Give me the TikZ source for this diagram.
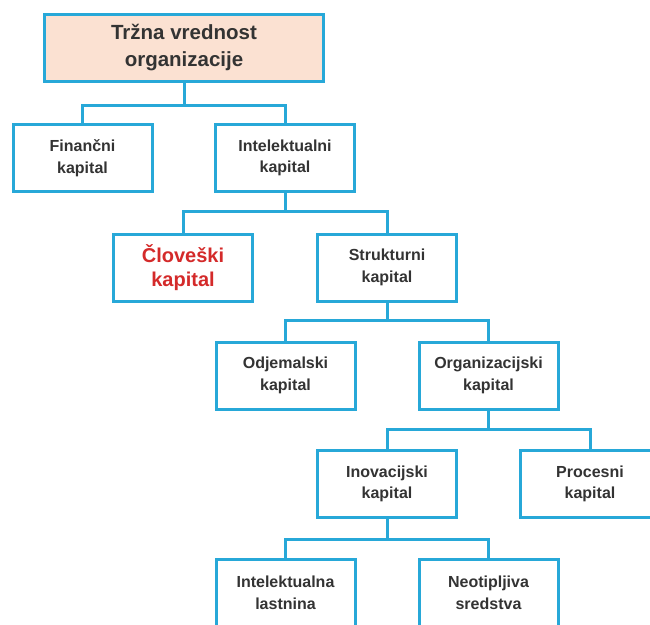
\documentclass[tikz,border=0pt]{standalone}
\usepackage{fontspec}
\setmainfont{Liberation Sans}
\definecolor{bcol}{HTML}{27A8D8}
\definecolor{tcol}{HTML}{333333}
\definecolor{rcol}{HTML}{D42A2A}
\definecolor{peach}{HTML}{FBE1D2}
\tikzset{
  box/.style={draw=bcol, line width=3pt, fill=white, minimum width=139pt, minimum height=67pt,
    align=center, inner sep=0pt, text=tcol, font=\bfseries\fontsize{16}{21.5}\selectfont},
  topbox/.style={box, fill=peach, minimum width=279pt, font=\bfseries\fontsize{20.5}{27}\selectfont},
  redbox/.style={box, text=rcol, font=\bfseries\fontsize{20}{24.5}\selectfont},
  conn/.style={draw=bcol, line width=3pt}
}
\begin{document}
\begin{tikzpicture}[x=1pt,y=-1pt]
\useasboundingbox (0,0) rectangle (650,624);
\clip (0,0) rectangle (650,624);
\node[topbox] (top) at (184,48) {Tržna vrednost\\organizacije};
\node[box] (fin) at (82.5,158) {Finančni\\kapital};
\node[box] (int) at (285,158) {Intelektualni\\kapital};
\node[redbox] (clov) at (183,267.5) {Človeški\\kapital};
\node[box] (str) at (387,267.5) {Strukturni\\kapital};
\node[box] (odj) at (285.5,375.5) {Odjemalski\\kapital};
\node[box] (org) at (488.5,375.5) {Organizacijski\\kapital};
\node[box] (inov) at (387,484) {Inovacijski\\kapital};
\node[box] (proc) at (590,484) {Procesni\\kapital};
\node[box] (intl) at (285.5,593) {Intelektualna\\lastnina};
\node[box] (neo) at (488.5,593) {Neotipljiva\\sredstva};
% connectors
\coordinate (j1) at (184,105);
\coordinate (j2) at (285,211);
\coordinate (j3) at (387,320);
\coordinate (j4) at (488.5,429);
\coordinate (j5) at (387,539);
\draw[conn] (top.south) -- (j1);
\draw[conn] (fin.north) |- (j1) -| (int.north);
\draw[conn] (int.south) -- (j2);
\draw[conn] (clov.north) |- (j2) -| (str.north);
\draw[conn] (str.south) -- (j3);
\draw[conn] (odj.north) |- (j3) -| (org.north);
\draw[conn] (org.south) -- (j4);
\draw[conn] (inov.north) |- (j4) -| (proc.north);
\draw[conn] (inov.south) -- (j5);
\draw[conn] (intl.north) |- (j5) -| (neo.north);
\end{tikzpicture}
\end{document}
